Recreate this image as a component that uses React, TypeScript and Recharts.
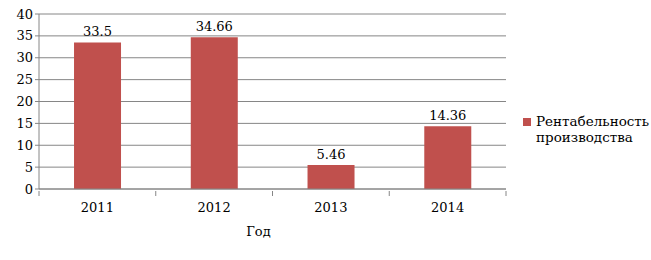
import React from "react";
import { BarChart, Bar, XAxis, YAxis, CartesianGrid, LabelList } from "recharts";

const years = ["2011", "2012", "2013", "2014"];
const profitability = [33.5, 34.66, 5.46, 14.36];
const yTicks = [0, 5, 10, 15, 20, 25, 30, 35, 40];
const seriesName = ["Рентабельность", "производства"];

const rows = years.map((year, i) => ({ year, value: profitability[i] }));

const FONT = "DejaVu Serif";
const FS = 13;
const GRID = "#868686";
const BAR = "#C0504D";

const PLOT_LEFT = 39;
const PLOT_RIGHT = 506;
const HALF_BAND = (PLOT_RIGHT - PLOT_LEFT) / years.length / 2;

// category ticks sit on the band edges, labels at the band centre
function YearTick(props: any) {
  const { x, y, payload, index } = props;
  const last = index === years.length - 1;
  return (
    <g>
      <line x1={x - HALF_BAND} x2={x - HALF_BAND} y1={y} y2={y + 5} stroke={GRID} />
      {last && <line x1={x + HALF_BAND} x2={x + HALF_BAND} y1={y} y2={y + 5} stroke={GRID} />}
      <text x={x} y={y + 21} textAnchor="middle" fontFamily={FONT} fontSize={FS} fill="#000">
        {payload.value}
      </text>
    </g>
  );
}

export default function App() {
  return (
    <div style={{ position: "absolute", left: 0, top: 0, width: 651, height: 260, background: "#fff" }}>
      <BarChart
        width={651}
        height={260}
        data={rows}
        margin={{ top: 14, right: 651 - PLOT_RIGHT, left: 0, bottom: 0 }}
        barCategoryGap="30%"
      >
        <CartesianGrid vertical={false} stroke={GRID} strokeWidth={1} />
        <XAxis
          dataKey="year"
          height={71}
          axisLine={{ stroke: GRID }}
          tickLine={false}
          tickSize={0}
          tick={<YearTick />}
          interval={0}
          label={{ value: "Год", position: "insideBottom", offset: 24, dx: -14, fontFamily: FONT, fontSize: FS, fill: "#000" }}
        />
        <YAxis
          width={PLOT_LEFT}
          domain={[0, 40]}
          ticks={yTicks}
          interval={0}
          axisLine={{ stroke: GRID }}
          tickLine={{ stroke: GRID }}
          tickSize={4}
          tick={{ fontFamily: FONT, fontSize: FS, fill: "#000" }}
        />
        <Bar dataKey="value" name={seriesName.join(" ")} fill={BAR} isAnimationActive={false}>
          <LabelList dataKey="value" position="top" offset={6} fontFamily={FONT} fontSize={FS} fill="#000" />
        </Bar>
      </BarChart>
      <div
        style={{
          position: "absolute",
          left: 523,
          top: 113,
          display: "flex",
          fontFamily: FONT,
          fontSize: 13.5,
          lineHeight: "16px",
          color: "#000",
        }}
      >
        <span style={{ width: 8, height: 8, background: BAR, marginTop: 5, marginRight: 5, flex: "none" }} />
        <span>
          {seriesName[0]}
          <br />
          {seriesName[1]}
        </span>
      </div>
    </div>
  );
}
